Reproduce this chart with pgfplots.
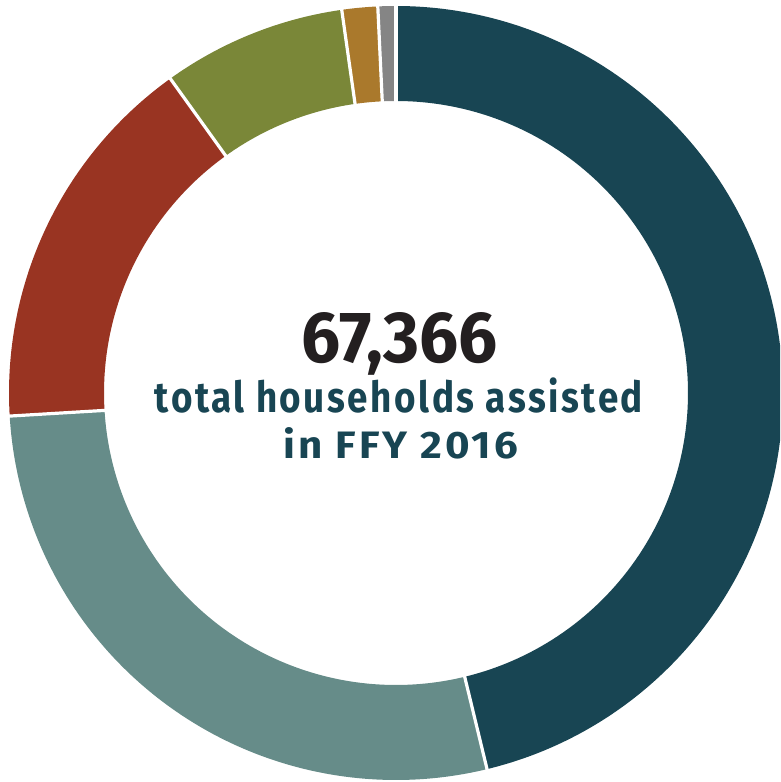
\documentclass[border=0pt]{standalone}
\usepackage{pgfplots}
\pgfplotsset{compat=1.18}
\usepackage{graphicx}
\usepackage{fontspec}
\setmainfont{Fira Sans}
\newfontfamily\spaced[LetterSpace=7]{Fira Sans}
\definecolor{cTeal}{HTML}{184553}
\definecolor{cGreyTeal}{HTML}{668C89}
\definecolor{cRed}{HTML}{993422}
\definecolor{cOlive}{HTML}{7A8738}
\definecolor{cOrange}{HTML}{AA792C}
\definecolor{cGrey}{HTML}{858585}
\definecolor{cBlack}{HTML}{231F20}
\begin{document}
\begin{tikzpicture}
% shares of the ring (percent), clockwise from the top
\def\sA{46.22}\def\sB{27.83}\def\sC{16.04}\def\sD{7.67}\def\sE{1.49}\def\sF{0.75}
\pgfmathsetmacro{\bA}{90}
\pgfmathsetmacro{\bB}{\bA-3.6*\sA}
\pgfmathsetmacro{\bC}{\bB-3.6*\sB}
\pgfmathsetmacro{\bD}{\bC-3.6*\sC}
\pgfmathsetmacro{\bE}{\bD-3.6*\sD}
\pgfmathsetmacro{\bF}{\bE-3.6*\sE}
\pgfmathsetmacro{\bG}{\bF-3.6*\sF}
\begin{axis}[scale only axis, width=780pt, height=782pt,
  xmin=-396, xmax=384, ymin=-389, ymax=393, hide axis, clip=true]
\addplot[data cs=polar, domain=\bB:\bA, samples=240, line width=95pt, draw=cTeal] {339.5};
\addplot[data cs=polar, domain=\bC:\bB, samples=160, line width=95pt, draw=cGreyTeal] {339.5};
\addplot[data cs=polar, domain=\bD:\bC, samples=100, line width=95pt, draw=cRed] {339.5};
\addplot[data cs=polar, domain=\bE:\bD, samples=60, line width=95pt, draw=cOlive] {339.5};
\addplot[data cs=polar, domain=\bF:\bE, samples=20, line width=95pt, draw=cOrange] {339.5};
\addplot[data cs=polar, domain=\bG:\bF, samples=10, line width=95pt, draw=cGrey] {339.5};
% white separators
\addplot[data cs=polar, draw=white, line width=3.2pt] coordinates {(\bA,280) (\bA,400)};
\addplot[data cs=polar, draw=white, line width=3.2pt] coordinates {(\bB,280) (\bB,400)};
\addplot[data cs=polar, draw=white, line width=3.2pt] coordinates {(\bC,280) (\bC,400)};
\addplot[data cs=polar, draw=white, line width=3.2pt] coordinates {(\bD,280) (\bD,400)};
\addplot[data cs=polar, draw=white, line width=3.2pt] coordinates {(\bE,280) (\bE,400)};
\addplot[data cs=polar, draw=white, line width=3.2pt] coordinates {(\bF,280) (\bF,400)};
\node[anchor=base, inner sep=0pt, text=cBlack] at (axis cs:4,30) {\resizebox{196pt}{50pt}{\bfseries 67,366}};
\node[anchor=base, inner sep=0pt, text=cTeal] at (axis cs:3,-19.7) {\resizebox{488pt}{34.7pt}{\spaced\bfseries total households assisted}};
\node[anchor=base, inner sep=0pt, text=cTeal] at (axis cs:5,-66) {\resizebox{234pt}{31pt}{\spaced\bfseries in FFY 2016}};
\end{axis}
\end{tikzpicture}
\end{document}
